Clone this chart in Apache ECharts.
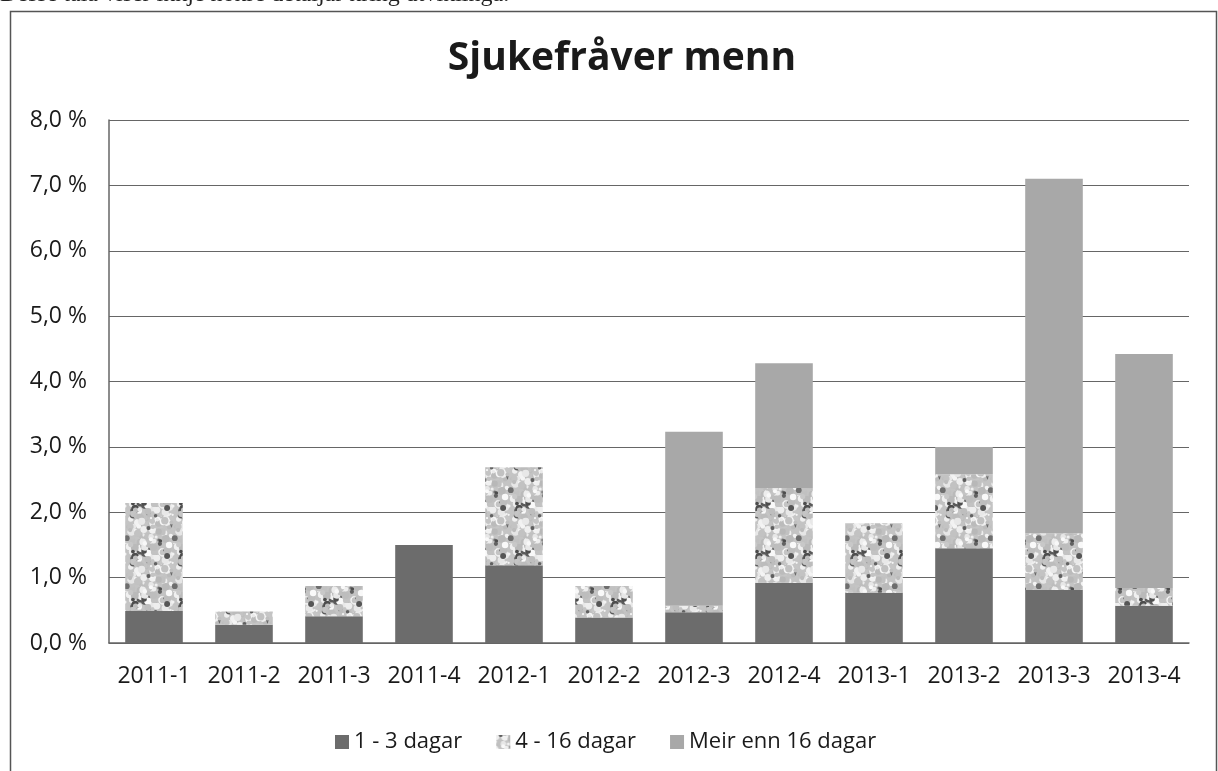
<!DOCTYPE html>
<html>
<head>
<meta charset="utf-8">
<script src="https://cdn.jsdelivr.net/npm/echarts@6/dist/echarts.min.js"></script>
<style>
  html, body { margin: 0; padding: 0; background: #fff; }
  #chart { width: 1218px; height: 771px; }
</style>
</head>
<body>
<div id="chart"></div>
<script>
// kvartal
const categories = ["2011-1", "2011-2", "2011-3", "2011-4", "2012-1", "2012-2",
  "2012-3", "2012-4", "2013-1", "2013-2", "2013-3", "2013-4"];
// prosent
const kort = [0.49, 0.28, 0.41, 1.50, 1.19, 0.39, 0.47, 0.92, 0.77, 1.45, 0.81, 0.57];
const middels = [1.65, 0.20, 0.46, 0, 1.50, 0.48, 0.10, 1.45, 1.06, 1.13, 0.87, 0.27];
const lang = [0, 0, 0, 0, 0, 0, 2.66, 1.91, 0, 0.42, 5.42, 3.58];
const yTicks = [0, 1, 2, 3, 4, 5, 6, 7, 8];

// granitt-mønster for 4-16 dagar
function granitt() {
  const c = document.createElement("canvas");
  c.width = 48;
  c.height = 48;
  const ctx = c.getContext("2d");
  ctx.fillStyle = "#c4c4c4";
  ctx.fillRect(0, 0, 48, 48);
  const h = (n) => {
    const s = Math.sin(n * 12.9898) * 43758.5453;
    return s - Math.floor(s);
  };
  for (let i = 0; i < 160; i++) {
    const x = h(i + 1) * 48;
    const y = h(i + 101) * 48;
    const r = 1 + h(i + 201) * 3;
    let g;
    const t = h(i + 301);
    if (t < 0.2) g = 70 + Math.round(t * 200);
    else if (t < 0.6) g = 220 + Math.round(t * 50);
    else g = 160 + Math.round(t * 40);
    ctx.fillStyle = "rgb(" + g + "," + g + "," + g + ")";
    for (const dx of [-48, 0, 48]) {
      for (const dy of [-48, 0, 48]) {
        ctx.beginPath();
        ctx.arc(x + dx, y + dy, r, 0, Math.PI * 2);
        ctx.fill();
      }
    }
  }
  return c;
}

const chart = echarts.init(document.getElementById("chart"));
const font = "'Open Sans', 'Noto Sans', sans-serif";

const option = {
  animation: false,
  backgroundColor: "#fff",
  title: {
    text: "Sjukefråver menn",
    left: 617,
    top: 34,
    textAlign: "center",
    textStyle: {
      fontFamily: font,
      fontWeight: "bold",
      fontSize: 39,
      color: "#1a1a1a",
    },
  },
  graphic: [
    {
      type: "rect",
      shape: { x: 10.5, y: 11.5, width: 1206, height: 780 },
      style: { fill: null, stroke: "#555", lineWidth: 1.5 },
      silent: true,
    },
    {
      type: "text",
      left: 0,
      top: -17,
      style: {
        text: "Desse tala viser ikkje nokre detaljar kring utviklinga.",
        font: "24px 'Liberation Serif', serif",
        fill: "#222",
      },
      silent: true,
    },
  ],
  legend: {
    data: ["1 - 3 dagar", "4 - 16 dagar", "Meir enn 16 dagar"],
    left: 330,
    top: 726,
    itemWidth: 14,
    itemHeight: 14,
    itemGap: 34,
    icon: "rect",
    textStyle: { fontFamily: font, fontSize: 22, color: "#1a1a1a" },
  },
  grid: {
    left: 109,
    right: 29,
    top: 120,
    bottom: 128,
    containLabel: false,
  },
  xAxis: {
    type: "category",
    data: categories,
    axisLine: { show: true, lineStyle: { color: "#666", width: 1.5 } },
    axisTick: { show: false },
    axisLabel: {
      fontFamily: font,
      fontSize: 23,
      color: "#1a1a1a",
      margin: 22,
      interval: 0,
    },
  },
  yAxis: {
    type: "value",
    min: yTicks[0],
    max: yTicks[yTicks.length - 1],
    interval: 1,
    axisLine: { show: true, lineStyle: { color: "#666", width: 1.5 } },
    axisTick: { show: false },
    splitLine: { show: true, lineStyle: { color: "#666", width: 1.2 } },
    axisLabel: {
      fontFamily: font,
      fontSize: 23,
      color: "#1a1a1a",
      margin: 22,
      formatter: (v) => v.toFixed(1).replace(".", ",") + " %",
    },
  },
  series: [
    {
      name: "1 - 3 dagar",
      type: "bar",
      stack: "sum",
      data: kort,
      barCategoryGap: "36%",
      itemStyle: { color: "#6c6c6c" },
    },
    {
      name: "4 - 16 dagar",
      type: "bar",
      stack: "sum",
      data: middels,
      itemStyle: { color: { image: granitt(), repeat: "repeat" } },
    },
    {
      name: "Meir enn 16 dagar",
      type: "bar",
      stack: "sum",
      data: lang,
      itemStyle: { color: "#a8a8a8" },
    },
  ],
};

chart.setOption(option);
</script>
</body>
</html>
